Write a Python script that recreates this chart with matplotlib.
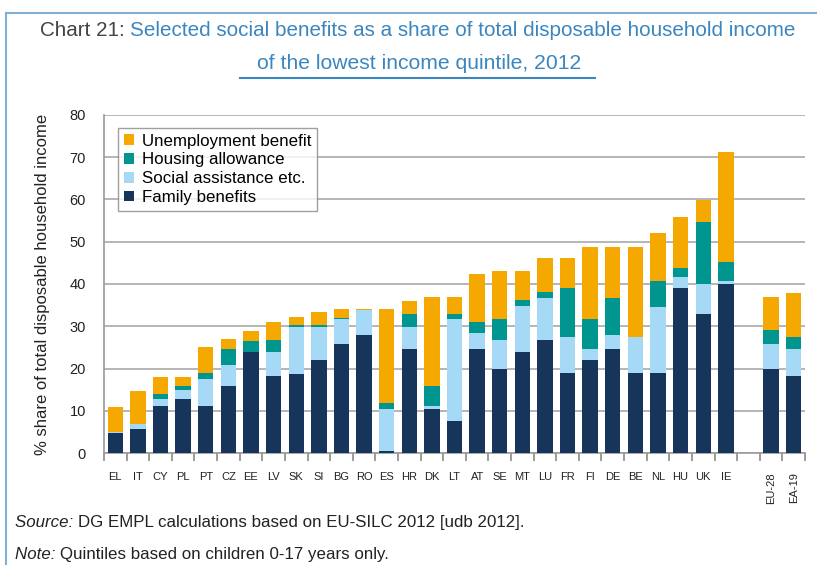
import numpy as np
import matplotlib
matplotlib.use("Agg")
import matplotlib.pyplot as plt
from matplotlib.patches import Patch
from matplotlib.lines import Line2D

plt.rcParams['font.family'] = ['Liberation Sans Narrow', 'Liberation Sans', 'DejaVu Sans']

countries = ["EL", "IT", "CY", "PL", "PT", "CZ", "EE", "LV", "SK", "SI", "BG", "RO", "ES",
             "HR", "DK", "LT", "AT", "SE", "MT", "LU", "FR", "FI", "DE", "BE", "NL", "HU",
             "UK", "IE"]
aggregates = ["EU-28", "EA-19"]

family = [4.8, 5.8, 11.1, 12.9, 11.1, 15.8, 23.8, 18.2, 18.6, 22.0, 25.7, 28.0, 0.5, 24.7,
          10.5, 7.6, 24.7, 20.0, 23.8, 26.7, 19.0, 22.0, 24.7, 19.0, 19.0, 39.0, 32.8, 40.0,
          20.0, 18.2]
social = [0.2, 1.0, 1.8, 2.0, 6.5, 5.1, 0.0, 5.6, 11.3, 7.9, 6.1, 5.8, 10.0, 5.2,
          0.6, 24.2, 3.8, 6.7, 11.0, 9.9, 8.5, 2.7, 3.3, 8.5, 15.6, 2.7, 7.2, 0.8,
          5.7, 6.5]
housing = [0.0, 0.1, 1.0, 0.9, 1.4, 3.8, 2.7, 2.9, 0.3, 0.3, 0.2, 0.0, 1.4, 2.9,
           4.7, 1.0, 2.4, 5.1, 1.4, 1.4, 11.5, 7.1, 8.6, 0.0, 6.2, 2.0, 14.6, 4.3,
           3.4, 2.8]
unemployment = [5.9, 7.8, 4.1, 2.2, 6.1, 2.3, 2.4, 4.2, 2.0, 3.1, 2.2, 0.4, 22.3, 3.2,
                21.2, 4.2, 11.4, 11.3, 6.9, 8.1, 7.1, 17.0, 12.2, 21.3, 11.3, 12.2, 5.3, 26.1,
                7.9, 10.4]

series = [
    ("Family benefits", family, "#17345a"),
    ("Social assistance etc.", social, "#a6d9f5"),
    ("Housing allowance", housing, "#00968f"),
    ("Unemployment benefit", unemployment, "#f5a800"),
]

labels = countries + aggregates
# one empty slot between the countries and the EU aggregates
pos = np.concatenate([np.arange(len(countries)), len(countries) + 1 + np.arange(len(aggregates))])

fig = plt.figure(figsize=(8.17, 5.65), dpi=100)
ax = fig.add_axes([0.1273, 0.1982, 0.858, 0.5983])

bottom = np.zeros(len(labels))
for name, vals, color in series:
    vals = np.array(vals)
    ax.bar(pos, vals, width=0.68, bottom=bottom, color=color, zorder=3)
    bottom += vals

ax.set_xlim(-0.5, pos[-1] + 0.5)
ax.set_ylim(0, 80)
ax.set_yticks(np.arange(0, 81, 10))
ax.yaxis.grid(True, color="#b5b5b5", linewidth=1.4, zorder=0)
ax.tick_params(axis="y", length=0, pad=13, labelsize=10.5, colors="#222222")

# major ticks mark the category boundaries, labels sit on minor ticks at the bars
ax.set_xticks(np.arange(-0.5, pos[-1] + 1, 1))
ax.set_xticklabels([])
ax.set_xticks(pos, minor=True)
ax.set_xticklabels(labels, minor=True, fontsize=8)
for lbl in ax.get_xticklabels(minor=True)[-2:]:
    lbl.set_rotation(90)
ax.tick_params(axis="x", which="major", direction="out", length=6, color="#8a8a8a", width=1.2)
ax.tick_params(axis="x", which="minor", length=0, pad=14, colors="#222222")

for side in ("top", "right"):
    ax.spines[side].set_visible(False)
for side in ("left", "bottom"):
    ax.spines[side].set_color("#999999")
    ax.spines[side].set_linewidth(1.2)

ax.set_ylabel("% share of total disposable household income", fontsize=12,
              color="#222222", labelpad=14)

handles = [Patch(facecolor=c, label=n) for n, _, c in reversed(series)]
leg = ax.legend(handles=handles, loc="upper left", bbox_to_anchor=(0.02, 0.962),
                fontsize=12.2, handlelength=0.6, handleheight=0.6, handletextpad=0.45,
                labelspacing=0.22, borderpad=0.35, borderaxespad=0, frameon=True,
                fancybox=False)
leg.get_frame().set_edgecolor("#888888")
leg.get_frame().set_linewidth(1.0)

renderer = fig.canvas.get_renderer()


def text_after(first, x, y, rest, color_first, color_rest, **kw):
    """Draw two texts on one line, the second starting where the first ends."""
    t = fig.text(x, y, first, color=color_first, ha="left", va="center", **kw)
    bb = t.get_window_extent(renderer=renderer)
    x2 = bb.x1 / fig.bbox.width
    style = {k: v for k, v in kw.items() if k != "style"}
    fig.text(x2, y, rest, color=color_rest, ha="left", va="center", **style)


blue = "#3b86bf"
text_after("Chart 21: ", 0.049, 0.946,
           "Selected social benefits as a share of total disposable household income",
           "#444444", blue, fontsize=14.9)
fig.text(0.513, 0.888, "of the lowest income quintile, 2012", fontsize=15.2, color=blue,
         ha="center", va="center")
fig.add_artist(Line2D([0.294, 0.728], [0.862, 0.862], color=blue, linewidth=1.5))

# frame lines at the top and left of the box
fig.add_artist(Line2D([0.007, 1.0], [0.977, 0.977], color="#7fb0d8", linewidth=1.5))
fig.add_artist(Line2D([0.007, 0.007], [0.0, 0.977], color="#7fb0d8", linewidth=1.5))

text_after("Source: ", 0.018, 0.075, "DG EMPL calculations based on EU-SILC 2012 [udb 2012].",
           "#222222", "#222222", fontsize=12.2, style="italic")
text_after("Note: ", 0.018, 0.018, "Quintiles based on children 0-17 years only.",
           "#222222", "#222222", fontsize=12.2, style="italic")

fig.savefig("out.png", dpi=100)
